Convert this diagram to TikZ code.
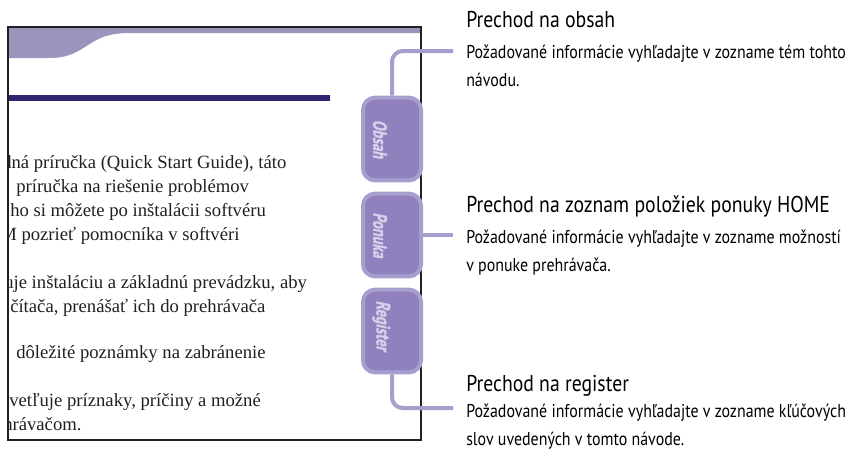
\documentclass[tikz,border=0pt]{standalone}
\usepackage{fontspec}
\newfontfamily\calloutfont[FakeStretch=0.86]{PT Sans}
\newfontfamily\tabfont[FakeStretch=0.74,FakeSlant=0.2,FakeBold=1.2]{PT Sans}
\newfontfamily\bodyfont{Liberation Serif}

\definecolor{bandcol}{RGB}{155,149,189}
\definecolor{navycol}{RGB}{46,36,112}
\definecolor{tabfill}{RGB}{144,128,190}
\definecolor{tabedge}{RGB}{166,158,204}
\definecolor{tabtext}{RGB}{214,208,234}
\definecolor{inkcol}{RGB}{35,31,32}

\tikzset{
	tab/.style={draw=tabedge, line width=3pt, fill=tabfill, rounded corners=9pt, minimum width=43.5pt, minimum height=62pt, inner sep=0pt},
	tablabel/.style={text=tabtext, rotate=-90, inner sep=0.75pt, font=\tabfont\bfseries\fontsize{14.5}{14.5}\selectfont},
	link/.style={draw=tabedge, line width=3pt, rounded corners=8pt},
	title/.style={anchor=base west, inner sep=0pt, text=black, font=\calloutfont\fontsize{17.2}{17.2}\selectfont},
	desc/.style={anchor=base west, inner sep=0pt, text=black, font=\calloutfont\fontsize{13.9}{13.9}\selectfont},
	bodyline/.style={anchor=base west, inner sep=0pt, text=inkcol, font=\bodyfont\fontsize{14}{14}\selectfont}
}

\begin{document}
\begin{tikzpicture}[x=0.75pt,y=0.75pt,yscale=-1,xscale=1]
	\useasboundingbox (0,0) rectangle (855,451);

	%Shape: top band of the page
	\fill [bandcol] (8,27) -- (421,27) -- (421,33) -- (130,33) .. controls (105,33) and (96,40) .. (85,47) .. controls (74,54) and (66,58) .. (48,58) -- (8,58) -- cycle ;
	%Straight Lines: heading rule
	\fill [navycol] (8,95) rectangle (330,101) ;

	% page text, cut by the frame
	\begin{scope}
		\clip (8,27) rectangle (421,440);
		\node [bodyline] (bodya) at (2,168) {dná príručka (Quick Start Guide), táto};
		\node [bodyline] (bodyb) at (16,192) {príručka na riešenie problémov};
		\node [bodyline] (bodyc) at (10,216) {ho si môžete po inštalácii softvéru};
		\node [bodyline] (bodyd) at (0,240) {M pozrieť pomocníka v softvéri};
		\node [bodyline] (bodye) at (4,288) {uje inštaláciu a základnú prevádzku, aby};
		\node [bodyline] (bodyf) at (10,312) {čítača, prenášať ich do prehrávača};
		\node [bodyline] (bodyg) at (16,358) {dôležité poznámky na zabránenie};
		\node [bodyline] (bodyh) at (9,406) {vetľuje príznaky, príčiny a možné};
		\node [bodyline] (bodyi) at (3,430) {hrávačom.};
	\end{scope}

	%Shape: page frame
	\draw [color=inkcol, line width=0.9pt] (8,27) rectangle (421,440) ;

	%Shape: tabs
	\node [tab] (obsah) at (392,139) {};
	\node [tab] (ponuka) at (392,235) {};
	\node [tab] (register) at (392,331) {};
	\node [tablabel] (obsahlabel) at ([xshift=-9pt]obsah.center) {Obsah};
	\node [tablabel] (ponukalabel) at ([xshift=-9pt]ponuka.center) {Ponuka};
	\node [tablabel] (registerlabel) at ([xshift=-8pt,yshift=-4pt]register.center) {Register};

	%Straight Lines: callout links
	\coordinate (obsahend) at (453,51);
	\coordinate (ponukaend) at (453,235);
	\coordinate (registerend) at (453,408);
	\draw [link] (obsah.north) |- (obsahend) ;
	\draw [link] (ponuka.east) -- (ponukaend) ;
	\draw [link] (register.south) |- (registerend) ;

	% Text Node
	\node [title] (obsahtitle) at (466,27) {Prechod na obsah};
	\node [desc] (obsahdesc) at (466,58) {Požadované informácie vyhľadajte v zozname tém tohto};
	\node [desc] (obsahdescb) at (466,86) {návodu.};
	% Text Node
	\node [title] (ponukatitle) at (466,212) {Prechod na zoznam položiek ponuky HOME};
	\node [desc] (ponukadesc) at (466,243) {Požadované informácie vyhľadajte v zozname možností};
	\node [desc] (ponukadescb) at (466,271) {v ponuke prehrávača.};
	% Text Node
	\node [title] (registertitle) at (466,391) {Prechod na register};
	\node [desc] (registerdesc) at (466,417) {Požadované informácie vyhľadajte v zozname kľúčových};
	\node [desc] (registerdescb) at (466,445) {slov uvedených v tomto návode.};
\end{tikzpicture}
\end{document}
